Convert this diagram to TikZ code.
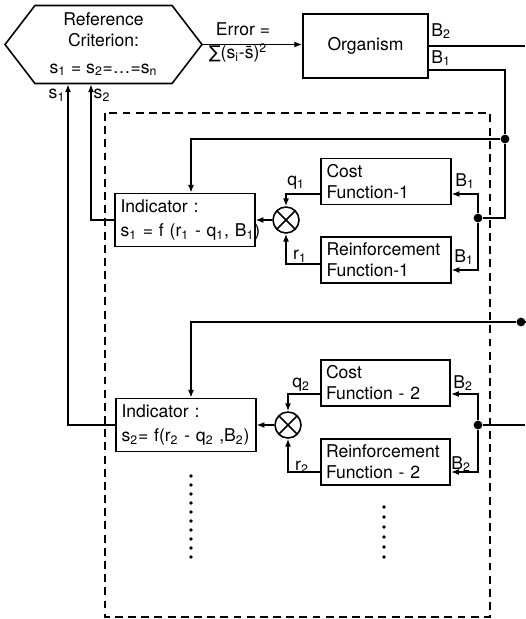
\documentclass[tikz,border=0pt]{standalone}
\usepackage{fontspec}
\setmainfont{TeX Gyre Heros}
\newfontfamily\symfont{DejaVu Sans}
\usetikzlibrary{arrows.meta,shapes.symbols,calc}
\newcommand{\lo}[1]{\textsubscript{#1}}

\begin{document}
\begin{tikzpicture}[x=0.02cm, y=-0.02cm, line width=0.9pt,
    font=\fontsize{10}{12}\selectfont,
    arr/.style={-{Latex[length=4.5pt,width=3.5pt]}},
    hexbox/.style={draw, signal, signal to=west and east, signal pointer angle=105,
        minimum width=3.94cm, minimum height=1.56cm, align=center, inner sep=1pt},
    block/.style={draw, minimum width=2.5cm, minimum height=1.28cm},
    indbox/.style={draw, text width=73.4pt, inner xsep=3pt, minimum height=1.06cm, align=left},
    funcbox/.style={draw, text width=67.7pt, inner xsep=3pt, minimum height=0.9cm, align=left},
    sumjn/.style={draw, circle, minimum size=0.52cm, inner sep=0pt,
        path picture={\draw (path picture bounding box.north west) -- (path picture bounding box.south east)
            (path picture bounding box.south west) -- (path picture bounding box.north east);}},
    junction/.style={circle, fill=black, inner sep=0pt, minimum size=5pt},
    lbl/.style={inner sep=1pt},
    frame/.style={dashed, line width=0.8pt, dash pattern=on 4.5pt off 3pt}
]
\useasboundingbox (0,0) rectangle (525,619);

% Criterion and organism
\node[hexbox] (crit) at (103.5,44.5) {Reference\\Criterion:\\[3pt]s\lo{1} = s\lo{2}=\dots=s\lo{n}};
\node[block] (org) at (365.5,46) {Organism};
\draw[arr] (crit.east) -- (crit.east -| org.west);
\node[lbl] (err) at (243,29) {Error =};
\node[lbl] (errsum) at (238,53) {{\symfont ∑}(s\lo{i}-\={s})\textsuperscript{2}};

% Organism outputs
\coordinate (e1) at (525,44);
\draw (org.east) -- (org.east -| e1);
\node[lbl] at (441,31) {B\lo{2}};
\node[lbl] at (441,58) {B\lo{1}};

% Dashed subsystem
\draw[frame] (105,113) rectangle (490,617);

% Channel 1
\node[indbox] (ind1) at (185,220) {Indicator :\\[2pt]\mbox{s\lo{1} = f (r\lo{1} - q\lo{1}, B\lo{1})}};
\node[sumjn] (sum1) at (286,220) {};
\node[funcbox] (cost1) at (386,181.5) {Cost\\Function-1};
\node[funcbox] (reinf1) at (386,260) {Reinforcement\\Function-1};
\node[junction] (d1) at (505,139) {};
\node[junction] (j1) at (478,218) {};

\draw ($(org.east)+(0,24)$) -| (d1);
\draw (d1) |- (j1);
\draw[arr] (d1) -| ([xshift=0.12cm]ind1.north);
\draw[arr] (j1) |- ($(cost1.east)+(0,12.5)$);
\draw[arr] (j1) |- ($(reinf1.east)+(0,10)$);
\draw[arr] ($(cost1.west)+(0,12.5)$) -| (sum1.north);
\draw[arr] ($(reinf1.west)+(0,4)$) -| (sum1.south);
\draw[arr] (sum1.west) -- (ind1.east);
\node[lbl] at (296,183) {q\lo{1}};
\node[lbl] at (300,256) {r\lo{1}};
\node[lbl] at (465,181) {B\lo{1}};
\node[lbl] at (464,257) {B\lo{1}};

% Channel 2
\node[indbox] (ind2) at (186,425) {Indicator :\\[2pt]\mbox{s\lo{2}= f(r\lo{2} - q\lo{2} ,B\lo{2})}};
\node[sumjn] (sum2) at (288,425) {};
\node[funcbox] (cost2) at (385.5,383) {Cost\\Function - 2};
\node[funcbox] (reinf2) at (385.5,462) {Reinforcement\\Function - 2};
\node[junction] (d2) at (521,322) {};
\node[junction] (j2) at (478,425) {};
\coordinate (e2) at (525,322);
\coordinate (e3) at (525,425);

\draw (d2) -- (e2);
\draw[arr] (d2) -| ([xshift=0.1cm]ind2.north);
\draw (j2) -- (e3);
\draw[arr] (j2) |- ($(cost2.east)+(0,11)$);
\draw[arr] (j2) |- ($(reinf2.east)+(0,10)$);
\draw[arr] ($(cost2.west)+(0,11)$) -| (sum2.north);
\draw[arr] ($(reinf2.west)+(0,10)$) -| (sum2.south);
\draw[arr] (sum2.west) -- (ind2.east);
\node[lbl] at (301,385) {q\lo{2}};
\node[lbl] at (302,467) {r\lo{2}};
\node[lbl] at (463,383) {B\lo{2}};
\node[lbl] at (461,464) {B\lo{2}};

% Indicator outputs back to the criterion
\coordinate (s1x) at (68,0);
\coordinate (s2x) at (91,0);
\draw[arr] (ind2.west) -| (crit.south -| s1x);
\draw[arr] (ind1.west) -| (crit.south -| s2x);
\node[lbl] at (57,95) {s\lo{1}};
\node[lbl] at (102,95) {s\lo{2}};

% More channels
\foreach \k in {0,...,9} \fill (191,476+9*\k) circle (1.1pt);
\foreach \k in {0,...,5} \fill (384,507+10*\k) circle (1.1pt);

\end{tikzpicture}
\end{document}
